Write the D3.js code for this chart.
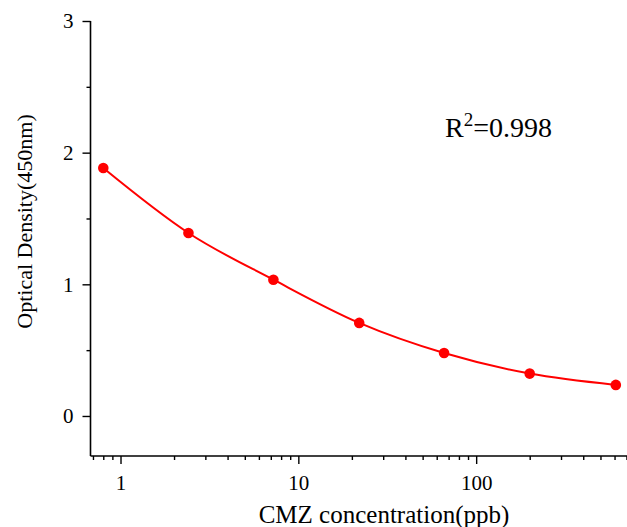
<!DOCTYPE html>
<html>
<head>
<meta charset="utf-8">
<script src="https://cdn.jsdelivr.net/npm/d3@7"></script>
<style>
  body { margin: 0; background: #fff; }
  svg { display: block; }
  text { font-family: "Liberation Serif", "Times New Roman", serif; fill: #000; }
</style>
</head>
<body>
<script>
const width = 627;
const height = 527;

// 数据 - concentration (ppb) vs OD450
const conc = [0.8, 2.41, 7.24, 22, 66, 200, 610];
const od = [1.883, 1.39, 1.035, 0.707, 0.478, 0.322, 0.236];
const xMajor = [1, 10, 100];
const yMajor = [0, 1, 2, 3];
const yMinor = [0.5, 1.5, 2.5];
const r2Label = "0.998";

const svg = d3.select("body").append("svg").attr("width", width).attr("height", height);

const x = d3.scaleLog().domain([0.678, 705]).range([90.5, 627]);
const y = d3.scaleLinear().domain([-0.304, 3]).range([456, 21]);

// minor ticks for log axis
const xMinor = [];
[0.1, 1, 10, 100].forEach(p => {
    for (let k = 2; k <= 9; k++) {
        const v = p * k;
        if (v >= x.domain()[0] && v <= x.domain()[1]) xMinor.push(v);
    }
});

// x axis
const gx = svg.append("g").attr("transform", "translate(0,456)");
gx.append("line").attr("x1", 90.5).attr("x2", 627).attr("stroke", "#000").attr("stroke-width", 1.6);
gx.call(d3.axisBottom(x).tickValues(xMinor).tickSize(4).tickFormat(""))
    .call(g => g.select(".domain").remove());
gx.append("g").call(d3.axisBottom(x).tickValues(xMajor).tickSize(8).tickPadding(11).tickFormat(d3.format("d")))
    .call(g => g.select(".domain").remove())
    .selectAll("text").attr("font-size", "21px").attr("font-family", "Liberation Serif");
gx.selectAll(".tick line").attr("stroke-width", 1.4);

// y axis
const gy = svg.append("g").attr("transform", "translate(90.5,0)");
gy.append("line").attr("y1", 21).attr("y2", 456).attr("stroke", "#000").attr("stroke-width", 1.6);
gy.call(d3.axisLeft(y).tickValues(yMinor).tickSize(4).tickFormat(""))
    .call(g => g.select(".domain").remove());
gy.append("g").call(d3.axisLeft(y).tickValues(yMajor).tickSize(8).tickPadding(9).tickFormat(d3.format("d")))
    .call(g => g.select(".domain").remove())
    .selectAll("text").attr("font-size", "21px").attr("font-family", "Liberation Serif");
gy.selectAll(".tick line").attr("stroke-width", 1.4);

// axis titles
svg.append("text")
    .attr("x", 384).attr("y", 523)
    .attr("text-anchor", "middle")
    .attr("font-size", "25px")
    .text("CMZ concentration(ppb)");

svg.append("text")
    .attr("transform", "translate(32,221.5) rotate(-90)")
    .attr("text-anchor", "middle")
    .attr("font-size", "22px")
    .text("Optical Density(450nm)");

// R^2
const r2 = svg.append("text").attr("x", 445).attr("y", 137).attr("font-size", "28px");
r2.append("tspan").text("R");
r2.append("tspan").attr("font-size", "19px").attr("dy", -11).text("2");
r2.append("tspan").attr("dy", 11).text("=" + r2Label);

// fitted curve
const pts = conc.map((c, i) => [c, od[i]]);
const line = d3.line()
    .x(d => x(d[0]))
    .y(d => y(d[1]))
    .curve(d3.curveMonotoneX);

svg.append("path")
    .datum(pts)
    .attr("d", line)
    .attr("fill", "none")
    .attr("stroke", "#ff0000")
    .attr("stroke-width", 2);

svg.selectAll("circle.pt")
    .data(pts)
    .enter()
    .append("circle")
    .attr("class", "pt")
    .attr("cx", d => x(d[0]))
    .attr("cy", d => y(d[1]))
    .attr("r", 5.3)
    .attr("fill", "#ff0000");
</script>
</body>
</html>
